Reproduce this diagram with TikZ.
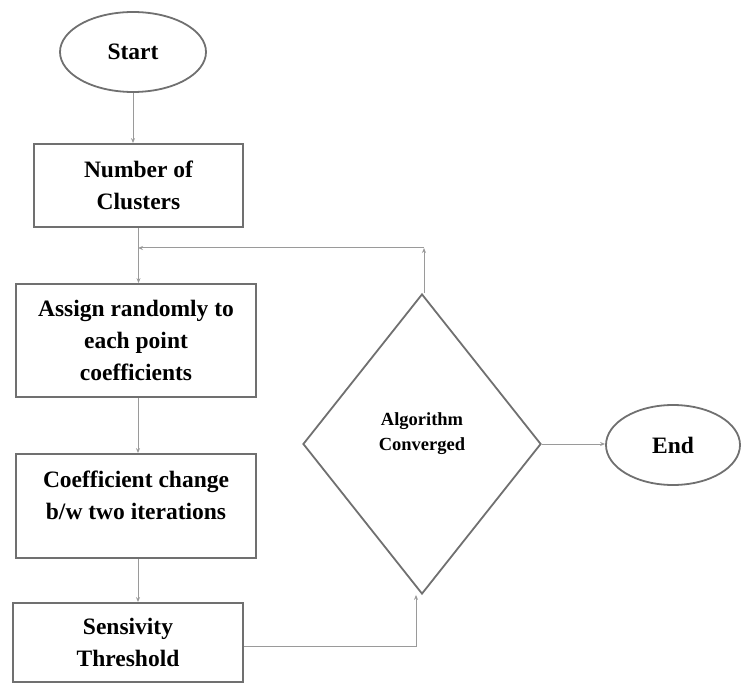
\documentclass[tikz,border=0pt]{standalone}
\usepackage{fontspec}
\setmainfont{Liberation Serif}
\usetikzlibrary{shapes.geometric,arrows.meta}
\definecolor{boxline}{HTML}{707070}
\definecolor{conline}{HTML}{9A9A9A}
\begin{document}
\begin{tikzpicture}[x=1pt,y=-1pt,
  shapeline/.style={draw=boxline,line width=1.8pt},
  bigtext/.style={font=\bfseries\fontsize{23.5}{32}\selectfont,align=center,text=black},
  smalltext/.style={font=\bfseries\fontsize{18.5}{25}\selectfont,align=center,text=black},
  procbox/.style={shapeline,rectangle,inner sep=0pt,bigtext},
  termbox/.style={shapeline,ellipse,inner sep=0pt,bigtext},
  conn/.style={draw=conline,line width=1pt,-{Stealth[length=5pt,width=4pt]}}]
\useasboundingbox (0,0) rectangle (744,684);
\node[termbox,minimum width=146pt,minimum height=80pt] (start) at (133,52) {Start};
\node[procbox,minimum width=209pt,minimum height=83pt] (clusters) at (138.5,185.5) {Number of\\Clusters};
\node[procbox,minimum width=240pt,minimum height=113pt] (assign) at (136,340.5) {Assign randomly to\\each point\\coefficients};
\node[procbox,minimum width=240pt,minimum height=104pt,
  label={[bigtext,name=coefftext,yshift=11pt]center:{Coefficient change\\b/w two iterations}}] (coeff) at (136,506) {};
\node[procbox,minimum width=230pt,minimum height=79pt] (sens) at (128,642.5) {Sensivity\\Threshold};
\node[shapeline,diamond,aspect=0.793,minimum width=238pt,minimum height=300pt,inner sep=0pt,
  label={[smalltext,name=diatext,yshift=10pt]center:{Algorithm\\Converged}}] (dia) at (422,444) {};
\node[termbox,minimum width=134pt,minimum height=80pt] (end) at (673,445) {End};
\coordinate (corner) at (424,248);
\coordinate (join) at (138,248);
\draw[conn] (start.south) -- (start.south |- clusters.north);
\draw[conn] (clusters.south) -- (clusters.south |- assign.north);
\draw[conn] (assign.south -| 138,0) -- (138,0 |- coeff.north);
\draw[conn] (coeff.south -| 138,0) -- (138,0 |- sens.north);
\draw[conn] ([yshift=-4pt]sens.east) -| ([xshift=-6pt]dia.south);
\draw[conn] ([xshift=2pt]dia.north) -- (corner);
\draw[conn] (corner) -- (join);
\draw[conn] (dia.east) -- (dia.east -| end.west);
\end{tikzpicture}
\end{document}
